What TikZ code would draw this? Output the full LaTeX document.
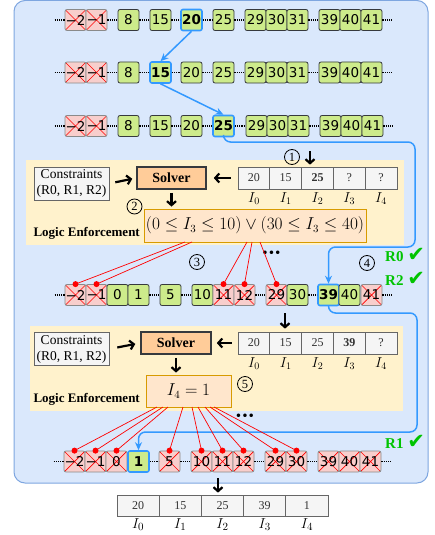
\documentclass[tikz,border=0pt]{standalone}
\usepackage{fontspec}
\setmainfont{Liberation Serif}
\newfontfamily\dvs{DejaVu Sans}
\usetikzlibrary{arrows.meta,calc}
\definecolor{bgblue}{HTML}{DAE8FC}
\definecolor{bgblueline}{HTML}{7EA6E0}
\definecolor{panel}{HTML}{FFF2CC}
\definecolor{gfill}{HTML}{CDEB8B}
\definecolor{gline}{HTML}{36393D}
\definecolor{rfill}{HTML}{F8CECC}
\definecolor{rline}{HTML}{8A8A8A}
\definecolor{hblue}{HTML}{3399FF}
\definecolor{solverfill}{HTML}{FFCC99}
\definecolor{logicfill}{HTML}{FFE6CC}
\definecolor{logicline}{HTML}{D79B00}
\definecolor{cellfill}{HTML}{F5F5F5}
\definecolor{cellline}{HTML}{666666}
\definecolor{okgreen}{HTML}{00C400}
\newcommand\mkrow[3]{%
  \foreach \bxx/\bt/\bs [count=\bi] in {#3}{%
    \edef\next{\noexpand\node[\bs] (#1-\bi) at (\bxx+10.5,#2) {\noexpand\bt};}\next}}
\newcommand\mkgaps[3]{%
  \foreach \g in {#2}{\pgfmathtruncatemacro\gn{\g+1}\draw[gap] (#1-\g.east) -- (#1-\gn.west);}
  \coordinate (#1-s) at ($(#1-1.west)+(-10,0)$);
  \coordinate (#1-e) at ($(#1-#3.east)+(9,0)$);
  \draw[gap] (#1-s) -- (#1-1.west);
  \draw[gap] (#1-#3.east) -- (#1-e);}
\newcommand\okmark{{\dvs\fontsize{21}{21}\selectfont ✔}}
\begin{document}
\begin{tikzpicture}[x=1pt,y=-1pt,
  cellbase/.style={minimum width=21pt, minimum height=21pt, inner sep=0pt, rounded corners=2pt,
    font=\dvs\fontsize{13.5}{15}\selectfont, line width=0.8pt},
  okbox/.style={cellbase, draw=gline, fill=gfill},
  xbox/.style={cellbase, draw=rline, fill=rfill, path picture={
    \draw[red, line width=0.7pt] (path picture bounding box.north west) -- (path picture bounding box.south east)
      (path picture bounding box.north east) -- (path picture bounding box.south west);}},
  selbox/.style={cellbase, draw=hblue, fill=gfill, line width=1.6pt, font=\dvs\bfseries\fontsize{13.5}{15}\selectfont},
  gap/.style={line width=1.2pt, dash pattern=on 1.1pt off 1.1pt},
  bluearr/.style={draw=hblue, line width=1.5pt, -{Stealth[length=8pt,width=7pt]}},
  bluepath/.style={draw=hblue, line width=1.5pt, rounded corners=7pt, -{Stealth[length=8pt,width=7pt]}},
  blk/.style={line width=2.2pt, -{Straight Barb[length=4pt,width=9pt]}},
  redl/.style={red, line width=0.7pt},
  reddot/.style={red},
  consbox/.style={draw=cellline, fill=cellfill, line width=0.8pt, minimum width=75pt, minimum height=33pt,
    inner sep=0pt, align=center, font=\fontsize{13.5}{16}\selectfont},
  solverbox/.style={draw=gline, fill=solverfill, line width=1.6pt, minimum width=69pt, minimum height=22pt,
    inner sep=0pt, font=\bfseries\fontsize{14}{16}\selectfont},
  logicbox/.style={draw=logicline, fill=logicfill, line width=0.8pt, minimum height=33pt, inner sep=0pt,
    font=\fontsize{16}{19}\selectfont},
  tcell/.style={draw=cellline, fill=cellfill, line width=0.7pt, minimum width=31.8pt, minimum height=22pt,
    inner sep=0pt, text=black!80, font=\fontsize{12}{14}\selectfont},
  fcell/.style={draw=cellline, fill=cellfill, line width=0.7pt, minimum width=42.2pt, minimum height=21pt,
    inner sep=0pt, text=black!80, font=\fontsize{12}{14}\selectfont},
  ilab/.style={inner sep=0pt, font=\fontsize{14}{15}\selectfont},
  flab/.style={inner sep=0pt, font=\fontsize{15.5}{17}\selectfont},
  numc/.style={circle, draw, line width=0.8pt, inner sep=0pt, minimum size=15pt, font=\fontsize{12.5}{13}\selectfont},
  lelab/.style={inner sep=0pt, font=\bfseries\fontsize{13}{15}\selectfont},
  oklab/.style={inner sep=0pt, text=okgreen, font=\bfseries\fontsize{15}{17}\selectfont},
  dotsl/.style={inner sep=0pt, font=\dvs\bfseries\fontsize{10}{10}\selectfont}
]
\useasboundingbox (0,0) rectangle (435,535);
% background
\draw[fill=bgblue, draw=bgblueline, line width=1pt, rounded corners=11pt] (14,0.5) rectangle (428,483);
\fill[panel] (26,160) rectangle (404,245);
\fill[panel] (30,326) rectangle (403,411);

% rows 1-3
\mkrow{r1}{20}{65/−2/xbox, 86/−1/xbox, 118/8/okbox, 150/15/okbox, 181/20/selbox, 213/25/okbox, 245/29/okbox, 266/30/okbox, 287/31/okbox, 319/39/okbox, 340/40/okbox, 361/41/okbox}
\mkrow{r2}{72.5}{65/−2/xbox, 86/−1/xbox, 118/8/okbox, 150/15/selbox, 181/20/okbox, 213/25/okbox, 245/29/okbox, 266/30/okbox, 287/31/okbox, 319/39/okbox, 340/40/okbox, 361/41/okbox}
\mkrow{r3}{126}{65/−2/xbox, 86/−1/xbox, 118/8/okbox, 150/15/okbox, 181/20/okbox, 213/25/selbox, 246/29/okbox, 267/30/okbox, 288/31/okbox, 320/39/okbox, 341/40/okbox, 362/41/okbox}
\mkgaps{r1}{2,3,4,5,6,9}{12}
\mkgaps{r2}{2,3,4,5,6,9}{12}
\mkgaps{r3}{2,3,4,5,6,9}{12}
% row 4
\mkrow{r4}{295}{65/−2/xbox, 86/−1/xbox, 107/0/okbox, 128/1/okbox, 160/5/okbox, 192/10/okbox, 213/11/xbox, 234/12/xbox, 266/29/xbox, 287/30/okbox, 318/39/selbox, 339/40/okbox, 361/41/xbox}
\mkgaps{r4}{4,5,8,10}{13}
% row 5
\mkrow{r5}{461.5}{64/−2/xbox, 85/−1/xbox, 106/0/xbox, 128/1/selbox, 159/5/xbox, 191/10/xbox, 212/11/xbox, 233/12/xbox, 265/29/xbox, 286/30/xbox, 318/39/xbox, 339/40/xbox, 360/41/xbox}
\mkgaps{r5}{4,5,8,10}{13}

% blue arrows
\draw[bluearr] (r1-5.south) -- (r2-4.north);
\draw[bluearr] (r2-4.south) -- (r3-6.north);
\coordinate (c1) at (415,142);
\coordinate (c2) at (415,247);
\draw[bluepath] (r3-6.south) |- (c1) -- (c2) -| (r4-11.north);
\coordinate (c3) at (417,313);
\coordinate (c4) at (417,432);
\draw[bluepath] (r4-11.south) |- (c3) -- (c4) -| (r5-4.north);

% panel 1
\node[consbox] (cons1) at (71.5,183.5) {Constraints\\(R0, R1, R2)};
\node[solverbox] (solver1) at (171.5,178) {Solver};
\foreach \v [count=\i from 0] in {20,15,{\textbf{25}},?,?}{
  \node[tcell] (t1-\i) at (238+15.9+31.8*\i,178) {\v};
  \node[ilab, anchor=north] (t1l-\i) at ([yshift=-3pt]t1-\i.south) {$I_{\i}$};}
\node[logicbox, minimum width=222pt] (logic1) at (255,225.5) {$(0 \le I_3 \le 10) \vee (30 \le I_3 \le 40)$};
\node[lelab, anchor=east] (le1) at (140,233) {Logic Enforcement};
\draw[blk, shorten <=6pt, shorten >=4pt] (cons1.east) -- (solver1.west);
\draw[blk, shorten <=7pt, shorten >=7pt] (t1-0.west) -- (solver1.east);
\draw[blk, shorten <=3pt, shorten >=2pt] (solver1.south) -- (solver1.south |- logic1.north);
\coordinate (a1) at (310,151);
\draw[blk, shorten >=2pt] (a1) -- (a1 |- t1-2.north);
\node[numc] (n1) at (292,157) {1};
\node[numc] (n2) at (134.5,206.5) {2};
\node[numc] (n3) at (197,262) {3};
\node[numc] (n4) at (367,263) {4};
\node[dotsl] (d1) at (271.5,254) {•••};
\node[oklab, anchor=west] (ok0) at (385,255) {R0 \okmark};
\node[oklab, anchor=west] (ok2) at (385,279) {R2 \okmark};

% red lines to row 4
\foreach \sx/\tg in {185/1, 192/2, 247/7, 252/8, 260/9}{
  \coordinate (p1-\tg) at (\sx,242);
  \draw[redl] (p1-\tg) -- (r4-\tg.north);
  \fill[reddot] (r4-\tg.north) circle (3);}

% panel 2
\node[consbox] (cons2) at (71.5,349) {Constraints\\(R0, R1, R2)};
\node[solverbox, minimum width=70pt] (solver2) at (176,343) {Solver};
\foreach \v [count=\i from 0] in {20,15,25,{\textbf{39}},?}{
  \node[tcell] (t2-\i) at (238+15.9+31.8*\i,343) {\v};
  \node[ilab, anchor=north] (t2l-\i) at ([yshift=-3pt]t2-\i.south) {$I_{\i}$};}
\node[logicbox, minimum width=85pt, minimum height=32pt] (logic2) at (188.5,391) {$I_4 = 1$};
\node[lelab, anchor=east] (le2) at (140,399) {Logic Enforcement};
\draw[blk, shorten <=8pt, shorten >=5pt] (cons2.east) -- (solver2.west);
\draw[blk, shorten <=6pt, shorten >=5pt] (t2-0.west) -- (solver2.east);
\draw[blk, shorten <=3pt, shorten >=2pt] (solver2.south) -- (solver2.south |- logic2.north);
\coordinate (a2) at (285,313);
\draw[blk, shorten >=3pt] (a2) -- (a2 |- t2-1.north);
\node[numc] (n5) at (245,384) {5};
\node[dotsl] (d2) at (245,417) {•••};
\node[oklab, anchor=west] (ok1) at (385,442) {R1 \okmark};

% red lines to row 5
\foreach \sx/\tg in {157/1, 163/2, 168/3, 183/5, 192/6, 198/7, 205/8, 210/9, 214/10}{
  \coordinate (p2-\tg) at (\sx,407);
  \draw[redl] (p2-\tg) -- (r5-\tg.north);
  \fill[reddot] (r5-\tg.north) circle (3);}

% final table
\foreach \v [count=\i from 0] in {20,15,25,39,1}{
  \node[fcell] (f-\i) at (117+21.1+42.2*\i,505.5) {\v};
  \node[flab, anchor=north] (fl-\i) at ([yshift=-2pt]f-\i.south) {$I_{\i}$};}
\coordinate (a3) at (218,478);
\draw[blk, shorten >=2pt] (a3) -- (a3 |- f-2.north);
\end{tikzpicture}
\end{document}
